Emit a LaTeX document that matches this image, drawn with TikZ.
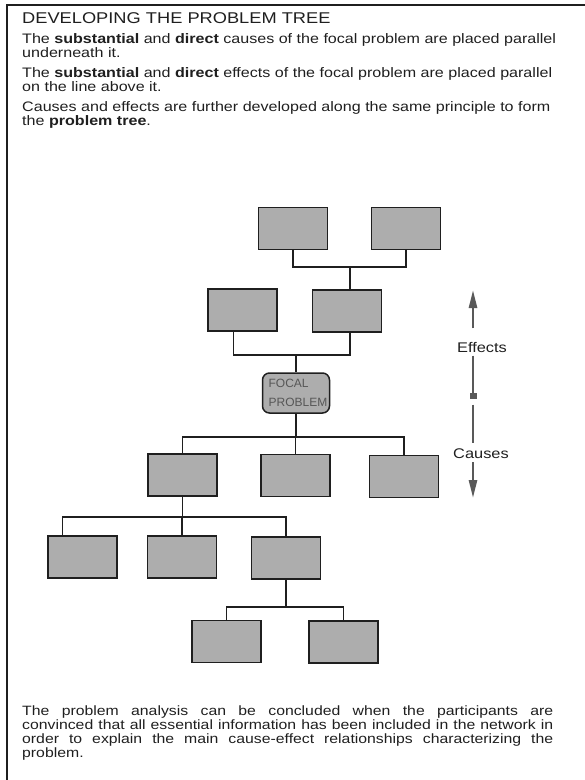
\documentclass[tikz,border=0pt]{standalone}
\usepackage{fontspec}
\setmainfont{Liberation Sans}[FakeStretch=1.17]
\newfontfamily\focalfont{Liberation Sans}
\usetikzlibrary{arrows.meta,positioning}
\definecolor{boxgray}{gray}{0.68}
\definecolor{inkgray}{gray}{0.12}
\definecolor{arrowgray}{gray}{0.35}
\newcommand{\bodysize}{\fontsize{13.75}{14}\selectfont}
\newcommand{\titlesize}{\fontsize{15.6}{17}\selectfont}
\newcommand{\sidesize}{\fontsize{14}{14}\selectfont}
\newcommand{\focalsize}{\focalfont\fontsize{12}{19}\selectfont}

\begin{document}
\begin{tikzpicture}[x=1pt,y=-1pt,
    treebox/.style={draw=inkgray,line width=1.5pt,fill=boxgray,minimum width=69pt,minimum height=42pt,inner sep=0pt},
    focalbox/.style={treebox,rounded corners=7pt,minimum width=67pt,minimum height=40pt},
    link/.style={draw=inkgray,line width=1.4pt},
    sidearrow/.style={draw=arrowgray,line width=2.6pt},
    para/.style={anchor=north west,inner sep=0pt,align=left,font=\bodysize,text=inkgray}]
    \useasboundingbox (0,0) rectangle (585,780);
    \draw[inkgray,line width=1.6pt] (7,780) -- (7,5) -- (585,5);

    \node[anchor=base west,inner sep=0pt,font=\titlesize,text=inkgray] (title) at (22,23) {DEVELOPING THE PROBLEM TREE};
    \node[para] (causestext) at (22,33) {The \textbf{substantial} and \textbf{direct} causes of the focal problem are placed parallel\\underneath it.};
    \node[para] (effectstext) at (22,67) {The \textbf{substantial} and \textbf{direct} effects of the focal problem are placed parallel\\on the line above it.};
    \node[para] (treetext) at (22,101) {Causes and effects are further developed along the same principle to form\\the \textbf{problem tree}.};
    \node[para,text width=531pt,align=justify,font=\fontsize{13.5}{14}\selectfont] (closing) at (22,706)
      {The problem analysis can be concluded when the participants are\linebreak
       convinced that all essential information has been included in the network in\linebreak
       order to explain the main cause-effect relationships characterizing the\linebreak
       problem.};

    \node[treebox] (E11) at (293,228.5) {};
    \node[treebox] (E12) at (406,228.5) {};
    \node[treebox] (E1) at (242.5,310) {};
    \node[treebox] (E2) at (347,311) {};
    \node[focalbox,align=left,font=\focalsize,text=inkgray!75] (FP) at (296,393) {\hspace*{4pt}FOCAL\\\hspace*{4pt}PROBLEM};
    \node[treebox] (C1) at (182.5,475) {};
    \node[treebox] (C2) at (295.5,475.5) {};
    \node[treebox] (C3) at (404,476.5) {};
    \node[treebox] (C11) at (82.5,557) {};
    \node[treebox] (C12) at (182,557) {};
    \node[treebox] (C13) at (286,558) {};
    \node[treebox] (C131) at (226.5,641.5) {};
    \node[treebox] (C132) at (343.5,642) {};

    \coordinate (effbar) at (350,267);
    \coordinate (focbar) at (296,355);
    \coordinate (causebar) at (296,437);
    \coordinate (c1bar) at (182,517);
    \coordinate (c13bar) at (286,607);

    \begin{scope}
      \draw[link] (E11.south) |- (effbar) -| (E12.south);
      \draw[link] (effbar) -- (E2.north -| effbar);
      \draw[link] ([xshift=-9pt]E1.south) |- (focbar) -| ([xshift=3pt]E2.south);
      \draw[link] (focbar) -- (FP.north);
      \draw[link] (FP.south) -- (causebar);
      \draw[link] (C1.north) |- (causebar) -| (C3.north);
      \draw[link] (C2.north) -- (C2.north |- causebar);
      \draw[link] (C1.south) -- (C1.south |- c1bar);
      \draw[link] ([xshift=-20pt]C11.north) |- (c1bar) -| (C13.north);
      \draw[link] (C12.north) -- (C12.north |- c1bar);
      \draw[link] (C13.south) -- (c13bar);
      \draw[link] (C131.north) |- (c13bar) -| (C132.north);
    \end{scope}

    \node[font=\sidesize,text=inkgray] (effects) at (482,347) {Effects};
    \node[font=\sidesize,text=inkgray] (causes) at (481,454) {Causes};
    \node[draw=arrowgray,fill=arrowgray,minimum width=6pt,minimum height=5pt,inner sep=0pt] (pivot) at (473,396) {};
    \coordinate (uptip) at (473,290);
    \coordinate (downtip) at (473,498);

    \draw[sidearrow,shorten <=10pt,-{Triangle[length=18pt,width=8pt]}] (effects.north -| uptip) -- (uptip);
    \draw[sidearrow,shorten <=6pt,shorten >=3pt] (effects.south -| pivot) -- (pivot) -- (causes.north -| pivot);
    \draw[sidearrow,-{Triangle[length=18pt,width=8pt]}] (causes.south -| downtip) -- (downtip);
  \end{tikzpicture}
\end{document}
